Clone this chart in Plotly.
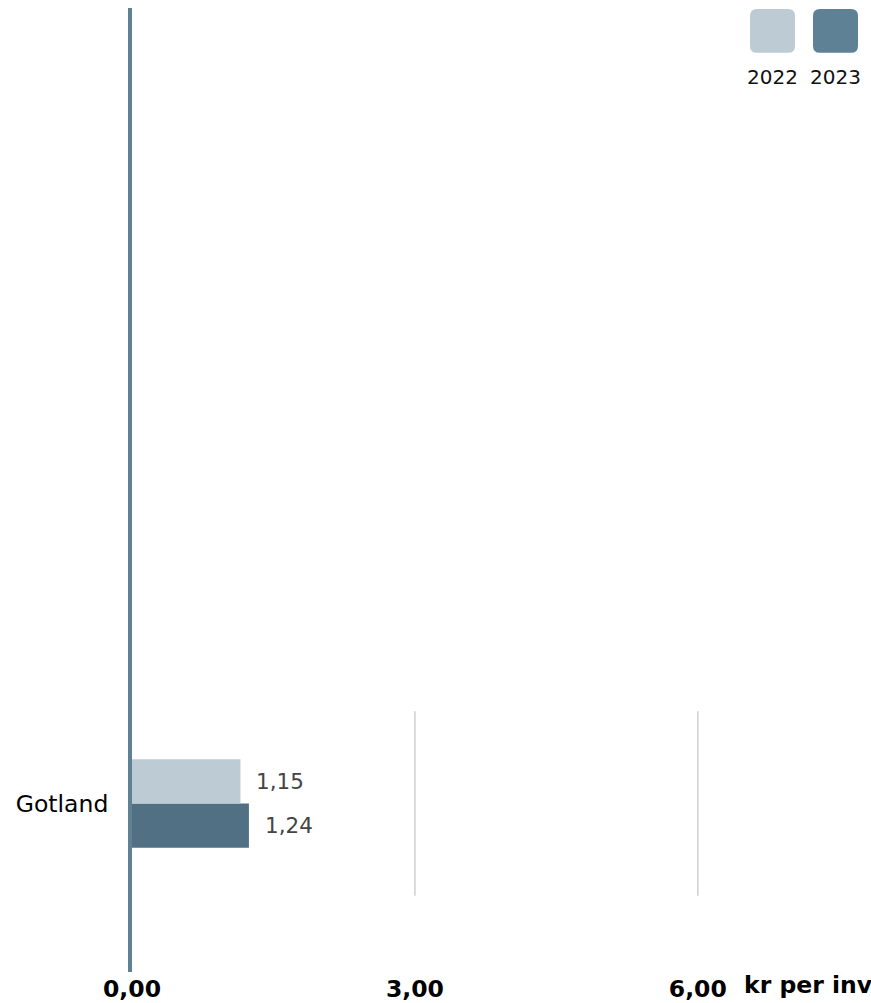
import plotly.graph_objects as go

categories = ["Gotland"]
years = ["2022", "2023"]
values_2022 = [1.15]
values_2023 = [1.24]
labels_2022 = ["1,15"]
labels_2023 = ["1,24"]
tick_vals = [0, 3, 6]
tick_text = ["0,00", "3,00", "6,00"]
axis_title = "kr per invånare"

W, H = 871, 1003
ML, MR, MT, MB = 132, 0, 8, 28
PW, PH = W - ML - MR, H - MT - MB
px_per_unit = 94.3
XMAX = PW / px_per_unit
band = 185.0
Y_TOP = (806 - MT) / band
Y_BOT = (MT + PH - 806) / band

C22 = "#bccbd4"
C23 = "#527083"
C23_LEG = "#5f8195"
FONT = "DejaVu Sans"

ypos = list(range(len(categories)))

fig = go.Figure()
fig.add_trace(go.Bar(y=ypos, x=values_2023, orientation="h", name="2023",
                     marker=dict(color=C23, line=dict(width=0)), showlegend=False))
fig.add_trace(go.Bar(y=ypos, x=values_2022, orientation="h", name="2022",
                     marker=dict(color=C22, line=dict(width=0)), showlegend=False))

bw = (1 - 0.52) / 2
annotations = []
for i, y in enumerate(ypos):
    annotations.append(dict(x=values_2022[i], y=y + bw / 2, xref="x", yref="y",
                            text=labels_2022[i], showarrow=False, xanchor="left",
                            xshift=14, font=dict(family=FONT, size=21.5, color="#444444")))
    annotations.append(dict(x=values_2023[i], y=y - bw / 2, xref="x", yref="y",
                            text=labels_2023[i], showarrow=False, xanchor="left",
                            xshift=14, font=dict(family=FONT, size=21.5, color="#444444")))

# axis title after last tick
annotations.append(dict(x=tick_vals[-1], y=0, xref="x", yref="paper", text="<b>" + axis_title + "</b>",
                        showarrow=False, xanchor="left", yanchor="middle", xshift=44, yshift=-13,
                        font=dict(family=FONT, size=23.5, color="#000000")))

shapes = []
# gridlines limited to category band
for tv in tick_vals[1:]:
    for y in ypos:
        shapes.append(dict(type="line", xref="x", yref="y", x0=tv, x1=tv, y0=y - 0.5, y1=y + 0.5,
                           line=dict(color="#d0d0d0", width=1.5), layer="below"))

# custom legend (rounded swatches with labels below)
def px2paper(px, py):
    return (px - ML) / PW, (MT + PH - py) / PH

def rounded(x0, y0, x1, y1, r):
    def P(a, b):
        u, v = px2paper(a, b)
        return f"{u:.5f},{v:.5f}"
    d = (f"M {P(x0 + r, y0)} L {P(x1 - r, y0)} Q {P(x1, y0)} {P(x1, y0 + r)} "
         f"L {P(x1, y1 - r)} Q {P(x1, y1)} {P(x1 - r, y1)} L {P(x0 + r, y1)} "
         f"Q {P(x0, y1)} {P(x0, y1 - r)} L {P(x0, y0 + r)} Q {P(x0, y0)} {P(x0 + r, y0)} Z")
    return d

leg_colors = [C22, C23_LEG]
leg_x = [750, 813]
for lx, col, yr in zip(leg_x, leg_colors, years):
    shapes.append(dict(type="path", xref="paper", yref="paper", path=rounded(lx, 9, lx + 45, 53, 7),
                       fillcolor=col, line=dict(width=0)))
    cx, cy = px2paper(lx + 22.5, 77)
    annotations.append(dict(x=cx, y=cy, xref="paper", yref="paper", text=yr, showarrow=False,
                            xanchor="center", yanchor="middle",
                            font=dict(family=FONT, size=20, color="#111111")))

fig.update_layout(
    width=W, height=H, autosize=False,
    margin=dict(l=ML, r=MR, t=MT, b=MB, pad=0),
    paper_bgcolor="white", plot_bgcolor="white",
    barmode="group", bargap=0.52, bargroupgap=0,
    showlegend=False,
    font=dict(family=FONT, color="#000000"),
    xaxis=dict(range=[0, XMAX], tickvals=tick_vals, ticktext=["<b>" + t + "</b>" for t in tick_text],
               showgrid=False, zeroline=False, showline=False, ticks="",
               tickfont=dict(family=FONT, size=23.5, color="#000000"), fixedrange=True),
    yaxis=dict(range=[-Y_BOT, Y_TOP], tickvals=ypos, ticktext=categories,
               showgrid=False, zeroline=False, showline=True, linewidth=4, linecolor="#5f8195",
               ticks="", ticklabelstandoff=15,
               tickfont=dict(family=FONT, size=23.5, color="#000000"), fixedrange=True),
    shapes=shapes,
    annotations=annotations,
)

fig.write_html("out.html", config={"displayModeBar": False},
               post_script="document.body.style.margin='0';")
